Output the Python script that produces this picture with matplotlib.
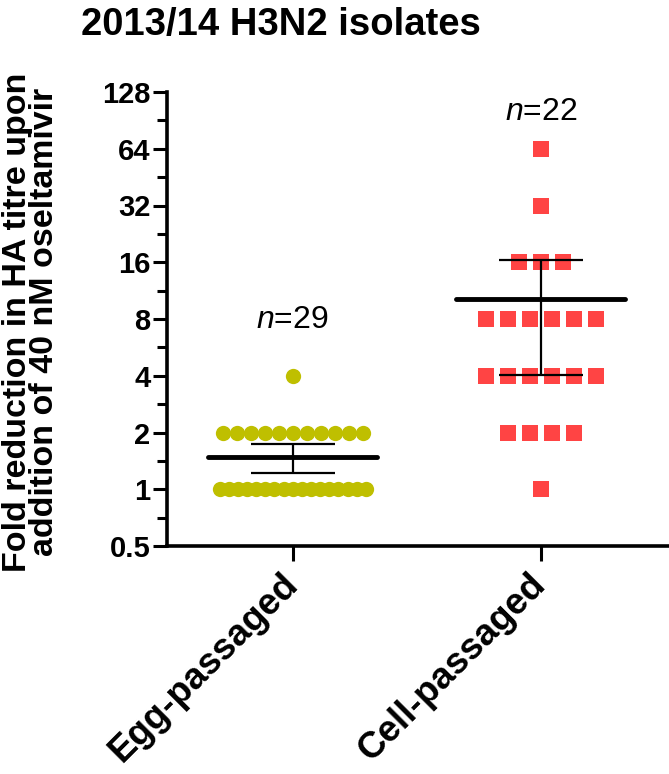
import numpy as np
import matplotlib
matplotlib.use("Agg")
import matplotlib.pyplot as plt
from matplotlib.ticker import FixedLocator, FixedFormatter

plt.rcParams['font.family'] = ['Liberation Sans', 'DejaVu Sans']
plt.rcParams['mathtext.fontset'] = 'custom'
plt.rcParams['mathtext.it'] = 'Liberation Sans:italic'
plt.rcParams['mathtext.rm'] = 'Liberation Sans'

# data: fold reduction per isolate
categories = ['Egg-passaged', 'Cell-passaged']
egg_values = [1] * 17 + [2] * 11 + [4]
cell_values = [1] + [2] * 4 + [4] * 6 + [8] * 6 + [16] * 3 + [32] + [64]
n_labels = ['$n$=29', '$n$=22']
n_label_y = [7.2, 91]
t_crit = {28: 2.048, 21: 2.080}  # two-sided 95% t values

yticks = [0.5, 1, 2, 4, 8, 16, 32, 64, 128]
ytick_labels = ['0.5', '1', '2', '4', '8', '16', '32', '64', '128']

colors = ['#BFBF00', '#FF4444']
markers = ['o', 's']
spacing = [0.0565, 0.0887]
max_width = 0.59


def row_offsets(n, step):
    # spread equal values horizontally, squeeze when the row gets too wide
    if n > 1:
        step = min(step, max_width / (n - 1))
    return (np.arange(n) - (n - 1) / 2) * step


def main():
    fig = plt.figure(figsize=(6.69, 7.74), dpi=100)
    ax = fig.add_axes([167 / 669, 1 - 546 / 774, 501 / 669, 454 / 774])

    for i, vals in enumerate([egg_values, cell_values]):
        vals = np.array(vals, dtype=float)
        xs, ys = [], []
        for v in np.unique(vals):
            n = int((vals == v).sum())
            xs.extend(i + row_offsets(n, spacing[i]))
            ys.extend([v] * n)
        ax.plot(xs, ys, linestyle='none', marker=markers[i], markersize=11,
                color=colors[i], markeredgewidth=0, zorder=2)

        mean = vals.mean()
        sem = vals.std(ddof=1) / np.sqrt(len(vals))
        half = t_crit[len(vals) - 1] * sem
        ax.hlines(mean, i - 0.34, i + 0.34, color='black', lw=3.5, zorder=3,
                  capstyle='round')
        ax.vlines(i, mean - half, mean + half, color='black', lw=1.6, zorder=3)
        ax.hlines([mean - half, mean + half], i - 0.17, i + 0.17,
                  color='black', lw=1.6, zorder=3)

        ax.text(i, n_label_y[i], n_labels[i], ha='center', va='baseline',
                fontsize=23)

    ax.set_yscale('log', base=2)
    ax.set_ylim(0.5, 128)
    ax.set_xlim(-0.507, 1.513)
    ax.yaxis.set_major_locator(FixedLocator(yticks))
    ax.yaxis.set_major_formatter(FixedFormatter(ytick_labels))
    minor = [np.sqrt(a * b) for a, b in zip(yticks[:-1], yticks[1:])]
    ax.yaxis.set_minor_locator(FixedLocator(minor))
    ax.yaxis.set_minor_formatter(FixedFormatter([''] * len(minor)))

    ax.set_xticks([0, 1])
    ax.set_xticklabels(categories, rotation=45, ha='right', va='center',
                       rotation_mode='anchor', fontsize=26.5, fontweight='bold')
    for lbl in ax.get_yticklabels():
        lbl.set_fontsize(21)
        lbl.set_fontweight('bold')

    for s in ['top', 'right']:
        ax.spines[s].set_visible(False)
    for s in ['left', 'bottom']:
        ax.spines[s].set_linewidth(2.6)
    ax.tick_params(axis='y', which='major', length=10, width=2.2, pad=2)
    ax.tick_params(axis='y', which='minor', length=7, width=2.2)
    ax.tick_params(axis='x', which='major', length=11, width=2.2, pad=13)

    fig.text(281 / 669, 1 - 35 / 774, '2013/14 H3N2 isolates', ha='center',
             va='baseline', fontsize=27.5, fontweight='bold')
    fig.text(31 / 669, 1 - 322 / 774,
             'Fold reduction in HA titre upon\naddition of 40 nM oseltamivir',
             rotation=90, ha='center', va='center', fontsize=24.5,
             fontweight='bold', linespacing=0.85)

    fig.savefig('out.png', dpi=100)


if __name__ == "__main__":
    main()
